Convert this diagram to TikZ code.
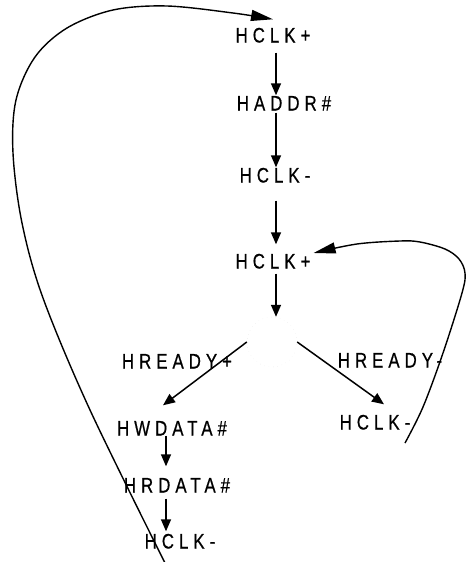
\documentclass[tikz,border=0pt]{standalone}
\usepackage{fontspec}
\setmainfont{Liberation Sans}[FakeStretch=0.8,LetterSpace=24,FakeBold=0.6]
\usetikzlibrary{arrows.meta}
\begin{document}
\begin{tikzpicture}[x=1pt,y=-1pt,
  lbl/.style={inner sep=0pt,text height=15pt,text depth=0pt,font=\fontsize{21}{23}\selectfont},
  arr/.style={line width=1.5pt,-{Triangle[length=12pt,width=10pt]}},
  looparr/.style={line width=1.4pt,-{Triangle[length=22pt,width=11pt]}}]
\useasboundingbox (0,0) rectangle (466,562);
\coordinate (spine) at (276,0);
\coordinate (spineb) at (166,0);
\node[lbl] (n1) at (273,35) {HCLK+};
\node[lbl] (n2) at (284,103) {HADDR\#};
\node[lbl] (n3) at (275,175) {HCLK-};
\node[lbl] (n4) at (273,261) {HCLK+};
\node[circle,draw=black!12,loosely dotted,minimum size=50pt,inner sep=0pt] (split) at (272,342) {};
\node[lbl] (n5) at (177,361) {HREADY+};
\node[lbl] (n6) at (390,360) {HREADY-};
\node[lbl] (n7) at (172,428) {HWDATA\#};
\node[lbl] (n8) at (375,422) {HCLK-};
\node[lbl] (n9) at (177,485) {HRDATA\#};
\node[lbl] (n10) at (180,541) {HCLK-};
\coordinate (bigstart) at (165,563);
\coordinate (rightstart) at (405,443);
\draw[arr,shorten <=10pt] (n1.south -| spine) -- (n2.north -| spine);
\draw[arr,shorten <=2pt] (n2.south -| spine) -- (n3.north -| spine);
\draw[arr,shorten <=18pt,shorten >=9pt] (n3.south -| spine) -- (n4.north -| spine);
\draw[arr,shorten <=5pt] (n4.south -| spine) -- (split.north -| spine);
\draw[arr] (split.west) -- ([xshift=-9pt,yshift=15pt]n7.north);
\draw[arr] (split.east) -- ([xshift=9pt,yshift=10pt]n8.north);
\draw[arr,shorten >=11pt] (n7.south -| spineb) -- (n9.north -| spineb);
\draw[arr,shorten <=6pt,shorten >=2pt] (n9.south -| spineb) -- (n10.north -| spineb);
\draw[looparr] plot[smooth,tension=0.55] coordinates {(bigstart) (90,410) (43,298) (22,223) (13,153) (16,100) (35,57) (67,28) (113,10) (167,6) (233,13) ([yshift=8pt]n1.north)};
\draw[looparr] plot[smooth,tension=0.55] coordinates {(rightstart) (423,407) (443,353) (462,293) (465,273) (459,259) (445,249) (420,242) (400,241) (357,244) ([xshift=3pt,yshift=8pt]n4.east)};
\end{tikzpicture}
\end{document}
